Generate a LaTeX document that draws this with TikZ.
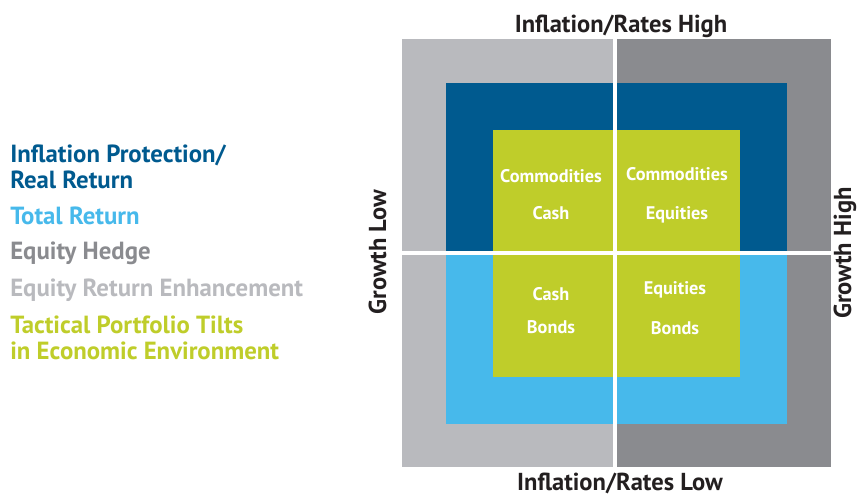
\documentclass[tikz,border=0pt]{standalone}
\usepackage{fontspec}
\setmainfont{PT Sans}
\definecolor{dblue}{HTML}{005A8F}
\definecolor{lblue}{HTML}{47B9EB}
\definecolor{lime}{HTML}{BFCD2A}
\definecolor{lgray}{HTML}{B9BABE}
\definecolor{dgray}{HTML}{8A8B8F}
\definecolor{ink}{HTML}{231F20}
\tikzset{
  legend/.style={anchor=base west, inner sep=0pt, font=\bfseries\fontsize{18.6}{20}\selectfont},
  axis/.style={anchor=base, inner sep=0pt, text=ink, font=\bfseries\fontsize{18.4}{20}\selectfont},
  quad/.style={anchor=base, inner sep=0pt, text=white, font=\bfseries\fontsize{13.7}{15}\selectfont},
  divider/.style={white, line width=3pt}
}
\begin{document}
\begin{tikzpicture}[x=0.75pt,y=-0.75pt]
\useasboundingbox (0,0) rectangle (859,496);
% boxes
\fill[lgray] (402,39) rectangle (615,467);
\fill[dgray] (615,39) rectangle (831,467);
\fill[dblue] (446,83) rectangle (787,253);
\fill[lblue] (446,253) rectangle (787,424);
\fill[lime] (493,130) rectangle (740,377);
\draw[divider] (615,39) -- (615,467);
\draw[divider] (402,253) -- (831,253);
% quadrant texts
\node[quad] (q1a) at (551,182) {Commodities};
\node[quad] (q1b) at (551,219) {Cash};
\node[quad] (q2a) at (677,180) {Commodities};
\node[quad] (q2b) at (677,219) {Equities};
\node[quad] (q3a) at (551,300) {Cash};
\node[quad] (q3b) at (551,333) {Bonds};
\node[quad] (q4a) at (675,294) {Equities};
\node[quad] (q4b) at (675,334) {Bonds};
% axis labels
\node[axis] (top) at (621,32) {Inflation/Rates High};
\node[axis] (bot) at (620,490) {Inflation/Rates Low};
\node[axis, rotate=90] (gl) at (386,252) {Growth Low};
\node[axis, rotate=90] (gh) at (851,253) {Growth High};
% legend
\node[legend, text=dblue] (l1) at (10,162) {Inflation Protection/};
\node[legend, text=dblue] (l2) at (10,188) {Real Return};
\node[legend, text=lblue] (l3) at (10,224) {Total Return};
\node[legend, text=dgray] (l4) at (10,259) {Equity Hedge};
\node[legend, text=lgray] (l5) at (10,296) {Equity Return Enhancement};
\node[legend, text=lime] (l6) at (10,333) {Tactical Portfolio Tilts};
\node[legend, text=lime] (l7) at (10,359) {in Economic Environment};
\end{tikzpicture}
\end{document}
